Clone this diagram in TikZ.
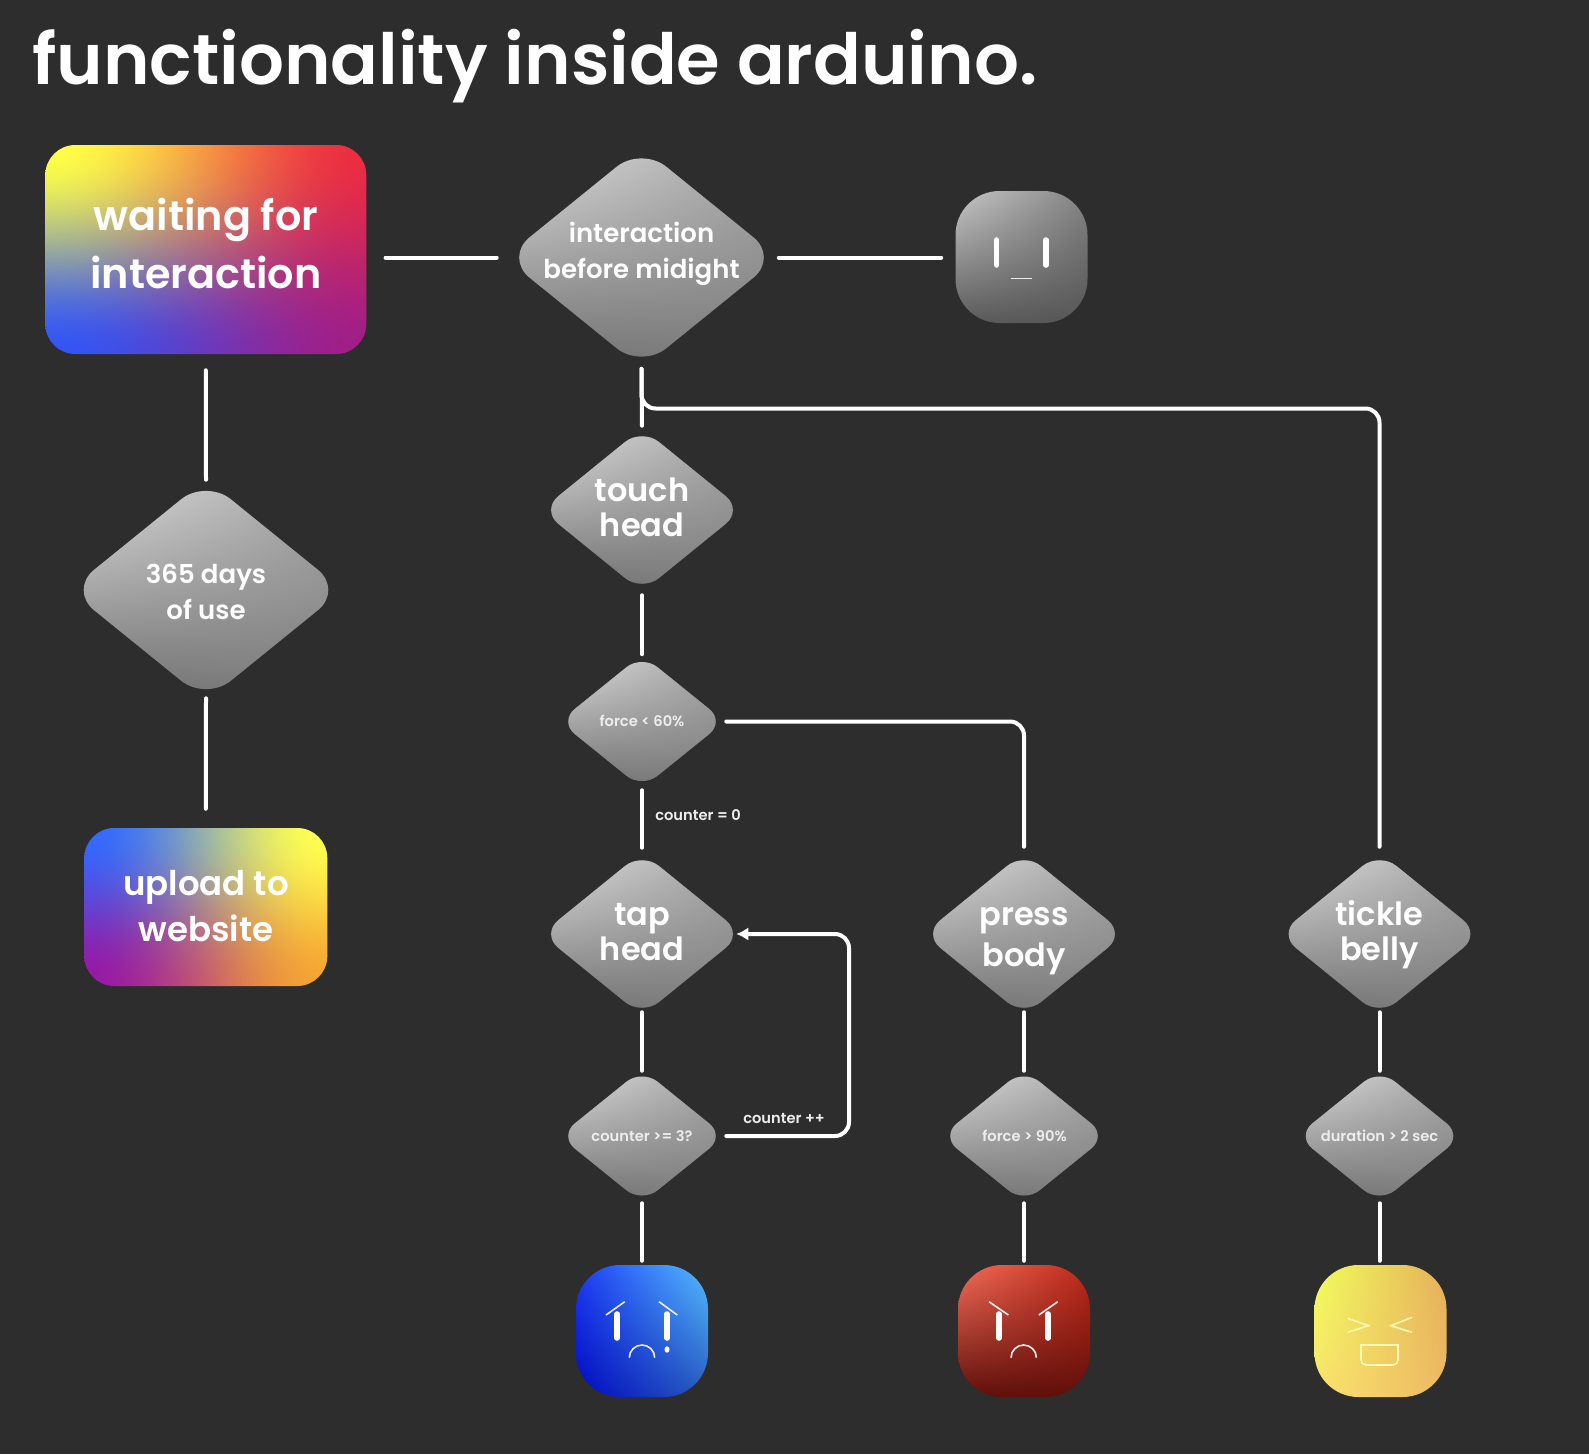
\documentclass[tikz,border=0pt]{standalone}
\usepackage{fontspec}
\usetikzlibrary{shapes.geometric,arrows.meta}
\setmainfont{Poppins}[UprightFont=* Medium,BoldFont=* SemiBold]
\def\px{0.75pt}
\definecolor{bgc}{HTML}{2D2D2D}
% four-corner colour shadings
\newcommand{\mkchan}[5]{\pgfmathsetmacro\cA{#4/255}\pgfmathsetmacro\cB{(#5-#4)/255}\pgfmathsetmacro\cC{(#2-#4)/255}\pgfmathsetmacro\cD{(#3+#4-#2-#5)/255}%
\expandafter\edef\csname chan#1\endcsname{2 copy mul \cD\space mul 3 1 roll \cC\space mul exch \cB\space mul add add \cA\space add}}
\newcommand{\mkshade}[1]{\edef\tmpdecl{\noexpand\pgfdeclarefunctionalshading{#1}{\noexpand\pgfpoint{-50bp}{-50bp}}{\noexpand\pgfpoint{50bp}{50bp}}{}{50 div 0.5 add exch 50 div 0.5 add exch 2 copy \chanR\space 3 1 roll 2 copy \chanG\space 3 1 roll \chanB}}\tmpdecl}
% same, with eased blending so the corner colours spread further
\def\ease{dup dup mul exch 2 mul 3 exch sub mul}
\newcommand{\mkshadeease}[1]{\edef\tmpdecl{\noexpand\pgfdeclarefunctionalshading{#1}{\noexpand\pgfpoint{-50bp}{-50bp}}{\noexpand\pgfpoint{50bp}{50bp}}{}{50 div 0.5 add \ease\space exch 50 div 0.5 add \ease\space exch 2 copy \chanR\space 3 1 roll 2 copy \chanG\space 3 1 roll \chanB}}\tmpdecl}
\mkchan{R}{255}{235}{50}{160}\mkchan{G}{255}{45}{85}{30}\mkchan{B}{70}{65}{245}{136}\mkshadeease{rainA}
\mkchan{R}{50}{255}{150}{245}\mkchan{G}{105}{255}{25}{165}\mkchan{B}{255}{80}{165}{50}\mkshadeease{rainB}
\mkchan{R}{225}{165}{110}{125}\mkchan{G}{225}{165}{110}{125}\mkchan{B}{225}{165}{110}{125}\mkshade{greyD}
\mkchan{R}{200}{130}{90}{85}\mkchan{G}{200}{130}{90}{85}\mkchan{B}{200}{130}{90}{85}\mkshade{greyF}
\mkchan{R}{30}{85}{0}{40}\mkchan{G}{60}{190}{10}{90}\mkchan{B}{245}{255}{190}{190}\mkshade{blueF}
\mkchan{R}{245}{190}{95}{95}\mkchan{G}{110}{40}{15}{15}\mkchan{B}{90}{25}{10}{10}\mkshade{redF}
\mkchan{R}{240}{228}{250}{238}\mkchan{G}{255}{175}{225}{185}\mkchan{B}{90}{90}{110}{100}\mkshade{yelF}
\tikzset{
 bigd/.style={shape=diamond,shade,shading=greyD,rounded corners=32*\px,minimum width=274*\px,minimum height=222*\px,inner sep=0pt},
 midd/.style={shape=diamond,shade,shading=greyD,rounded corners=22*\px,minimum width=202*\px,minimum height=164*\px,inner sep=0pt},
 smad/.style={shape=diamond,shade,shading=greyD,rounded corners=20*\px,minimum width=166*\px,minimum height=134*\px,inner sep=0pt},
 facebox/.style={shape=rectangle,shade,rounded corners=44*\px,minimum size=132*\px,inner sep=0pt},
 conn/.style={draw=white,line width=3pt,line cap=round,rounded corners=14*\px},
 eye/.style={draw=white,line width=4.2pt,line cap=round},
 thin/.style={draw=white!85!gray,line width=1.2pt},
 thiny/.style={draw=white!70!yellow,line width=1.2pt},
 txt/.style={text=white,align=center,inner sep=0pt},
 tbig/.style={txt,font=\fontsize{31}{43.5}\selectfont\bfseries},
 tup/.style={txt,font=\fontsize{25.5}{35}\selectfont\bfseries},
 tmed/.style={txt,font=\fontsize{24}{26.2}\selectfont\bfseries},
 tmedb/.style={txt,font=\fontsize{24}{30.5}\selectfont\bfseries},
 tsm/.style={txt,font=\fontsize{19.5}{26.9}\selectfont\bfseries},
 ttiny/.style={txt,text=white!93!black,font=\fontsize{11}{13}\selectfont\bfseries},
}
\begin{document}
\begin{tikzpicture}[x=0.75pt,y=-0.75pt]
\fill[bgc] (0,0) rectangle (1589,1454);
\useasboundingbox (0,0) rectangle (1589,1454);
\node[txt,anchor=base west,font=\fontsize{52.9}{60}\selectfont\bfseries] (title) at (32,84) {functionality inside arduino.};
% main nodes
\node[shape=rectangle,shade,shading=rainA,rounded corners=30*\px,minimum width=321*\px,minimum height=209*\px,inner sep=0pt] (wait) at (205.8,249.5) {};
\node[shape=rectangle,shade,shading=rainB,rounded corners=30*\px,minimum width=243*\px,minimum height=158*\px,inner sep=0pt] (upload) at (205.8,907) {};
\node[bigd] (int) at (641.5,257.5) {};
\node[bigd] (days) at (206,590) {};
\node[midd] (touch) at (642,510) {};
\node[smad] (force) at (642,721.5) {};
\node[midd] (tap) at (642,934) {};
\node[smad] (cnt) at (642,1136) {};
\node[midd] (press) at (1024,934) {};
\node[smad] (hard) at (1024,1136) {};
\node[midd] (tickle) at (1379.5,934) {};
\node[smad] (dur) at (1379.5,1136) {};
\node[facebox,shading=greyF] (fgrey) at (1021.5,257) {};
\node[facebox,shading=blueF] (fblue) at (642,1331) {};
\node[facebox,shading=redF] (fred) at (1024,1331) {};
\node[facebox,shading=yelF] (fyel) at (1380.5,1331) {};
% texts
\node[tbig] (waitT) at (206,243.5) {waiting for\\interaction};
\node[tup] (uploadT) at (206,906) {upload to\\website};
\node[tsm] (intT) at (641.5,254) {interaction\\before midight};
\node[tsm] (daysT) at (206,592) {365 days\\of use};
\node[tmed] (touchT) at (642,507) {touch\\head};
\node[tmed] (tapT) at (642,932.5) {tap\\head};
\node[tmedb] (pressT) at (1024,941.5) {press\\body};
\node[tmed] (tickleT) at (1379.5,935) {tickle\\belly};
\node[ttiny] (forceT) at (642,721) {force < 60\%};
\node[ttiny] (cntT) at (642,1136) {counter >= 3?};
\node[ttiny] (hardT) at (1024.5,1136) {force > 90\%};
\node[ttiny] (durT) at (1379.5,1136) {duration > 2 sec};
\node[ttiny,anchor=west] (zero) at (655,815) {counter = 0};
\node[ttiny,anchor=west] (plus) at (743,1118) {counter ++};
% connectors
\coordinate (brk) at (1379.5,408.5);
\coordinate (loop) at (849,1034);
\draw[conn,shorten <=19*\px,shorten >=7.5*\px] (wait.east |- int.west) -- (int.west);
\draw[conn,shorten >=14*\px] (int.east) -- (int.east -| fgrey.west);
\draw[conn,shorten <=16*\px,shorten >=-1*\px] (wait.south) -- (days.north);
\draw[conn,shorten <=-3*\px,shorten >=19*\px] (days.south) -- (upload.north);
\draw[conn,shorten >=2*\px] (int.south) -- (touch.north);
\draw[conn,shorten >=5*\px] (int.south) |- (brk) -- (tickle.north);
\draw[conn,shorten <=3*\px] (touch.south) -- (force.north);
\draw[conn,shorten <=1*\px,shorten >=5*\px] (force.east) -| (press.north);
\draw[conn,shorten <=1.5*\px,shorten >=4*\px] (force.south) -- (tap.north);
\draw[conn,-{Latex[length=9pt,width=10pt]},shorten <=1*\px,shorten >=-7*\px] (cnt.east) -| (loop) |- (tap.east);
\foreach \a/\b/\c in {tap/cnt/fblue,press/hard/fred,tickle/dur/fyel}{
 \draw[conn,shorten <=-4*\px,shorten >=-2*\px] (\a.south) -- (\b.north);
 \draw[conn,shorten >=4*\px] (\b.south) -- (\b.south |- \c.north);
}
% grey face
\draw[eye] (996.5,240) -- (996.5,265);
\draw[eye] (1046,240) -- (1046,265);
\draw[thin] (1010.5,278.5) -- (1032,278.5);
% blue face
\draw[eye] (617,1314) -- (617,1338);
\draw[eye] (667,1314) -- (667,1338);
\fill[white] (667,1349.5) ellipse (2.5 and 3.2);
\draw[thin] (606,1315) -- (624.7,1301.7);
\draw[thin] (659,1301.7) -- (677.3,1315);
\draw[thin] (629.3,1357.7) arc[start angle=180,end angle=360,x radius=12.7,y radius=12.7];
% red face
\draw[eye] (999,1314) -- (999,1338);
\draw[eye] (1048,1314) -- (1048,1338);
\draw[thin] (989,1301.7) -- (1008.4,1315);
\draw[thin] (1038.8,1315) -- (1057.7,1301.7);
\draw[thin] (1011,1357.7) arc[start angle=180,end angle=360,x radius=12.7,y radius=12.7];
% yellow face
\draw[thiny] (1347.6,1318.3) -- (1368.5,1325.7) -- (1347.6,1332.3);
\draw[thiny] (1412,1317.3) -- (1390.8,1325.7) -- (1412,1332.3);
\draw[thiny] (1361,1345) [rounded corners=5*\px] -- (1361,1365) -- (1398,1365) [sharp corners] -- (1398,1345) -- cycle;
\end{tikzpicture}
\end{document}
